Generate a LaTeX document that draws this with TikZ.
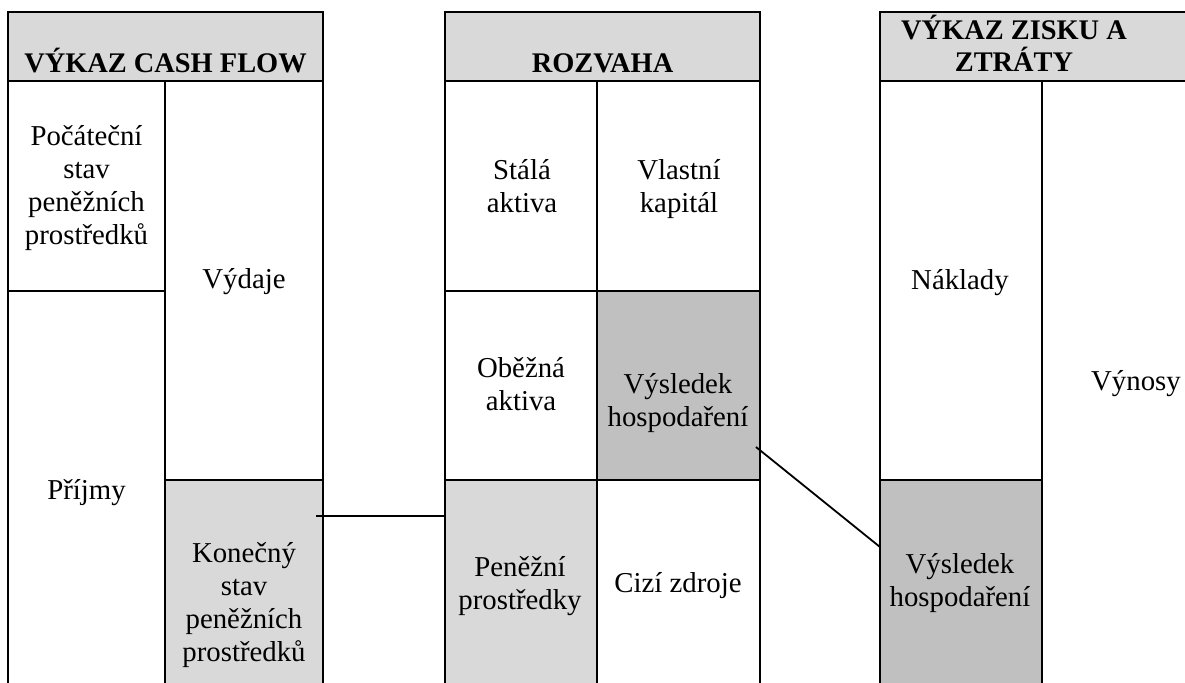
\documentclass[tikz,border=0pt]{standalone}
\usepackage{fontspec}
\setmainfont{Liberation Serif}
\usepackage{tikz}
\definecolor{headGray}{HTML}{D9D9D9}
\definecolor{resGray}{HTML}{C0C0C0}
\tikzset{
cell/.style = {rectangle, draw=black, line width=1.3pt, anchor=north west,
               inner sep=0pt, outer sep=0pt, minimum width=#1},
cell/.default = 80pt % column width
}
\tikzset{
txt/.style = {align=center, inner sep=0pt, font=\fontsize{14.4}{16.5}\selectfont}
}
\tikzset{
head/.style = {align=center, inner sep=0pt, font=\fontsize{14.2}{16}\selectfont\bfseries},
link/.style = {line width=0.9pt}
}

\begin{document}
\begin{tikzpicture}[x=0.5pt, y=-0.5pt]
  \useasboundingbox (0,0) rectangle (1185,682);
  \clip (0,0) rectangle (1185,682);

  % Boxes
    \node[cell=157.5pt, minimum height=34.5pt, fill=headGray] (cashHead) at (8,12) {};
    \node[cell=78.5pt, minimum height=105pt] (cashStart) at (8,81) {};
    \node[cell=78.5pt, minimum height=200pt] (cashIn) at (8,291) {};
    \node[cell=79pt, minimum height=199.5pt] (cashOut) at (165,81) {};
    \node[cell=79pt, minimum height=125pt, fill=headGray] (cashEnd) at (165,480) {};

    \node[cell=157.5pt, minimum height=34.5pt, fill=headGray] (bsHead) at (445,12) {};
    \node[cell=76pt, minimum height=105pt] (bsFixed) at (445,81) {};
    \node[cell=76pt, minimum height=94.5pt] (bsCurrent) at (445,291) {};
    \node[cell=76pt, minimum height=106pt, fill=headGray] (bsCash) at (445,480) {};
    \node[cell=81.5pt, minimum height=105pt] (bsEquity) at (597,81) {};
    \node[cell=81.5pt, minimum height=94.5pt, fill=resGray] (bsResult) at (597,291) {};
    \node[cell=81.5pt, minimum height=106pt] (bsDebt) at (597,480) {};

    \node[cell=175pt, minimum height=34.5pt, fill=headGray] (plHead) at (880,12) {};
    \node[cell=81pt, minimum height=199.5pt] (plCost) at (880,81) {};
    \node[cell=81pt, minimum height=106pt, fill=resGray] (plResult) at (880,480) {};
    \node[cell=94pt, minimum height=305pt] (plRevenue) at (1042,81) {};

  % Texts
    \node[head, anchor=base] (cashTitle) at (165.5,72.7) {VÝKAZ CASH FLOW};
    \node[head, anchor=base] (bsTitle) at (602.5,72.7) {ROZVAHA};
    \node[head] (plTitle) at (1014,43.5) {VÝKAZ ZISKU A\\ZTRÁTY};

    \node[txt] (cashStartText) at (86.5,188) {Počáteční\\stav\\peněžních\\prostředků};
    \node[txt] (cashOutText) at (244,281.5) {Výdaje};
    \node[txt] (cashInText) at (86.5,492.5) {Příjmy};
    \node[txt] (cashEndText) at (244,605) {Konečný\\stav\\peněžních\\prostředků};

    \node[txt] (bsFixedText) at (522,186.3) {Stálá\\aktiva};
    \node[txt] (bsEquityText) at (679,189) {Vlastní\\kapitál};
    \node[txt] (bsCurrentText) at (521,384) {Oběžná\\aktiva};
    \node[txt] (bsResultText) at (678,403) {Výsledek\\hospodaření};
    \node[txt] (bsCashText) at (520,586) {Peněžní\\prostředky};
    \node[txt] (bsDebtText) at (678,585.4) {Cizí zdroje};

    \node[txt] (plCostText) at (960,282.5) {Náklady};
    \node[txt] (plRevenueText) at (1136,383.5) {Výnosy};
    \node[txt] (plResultText) at (960,583) {Výsledek\\hospodaření};

  % Lines
    \coordinate (cashLink) at ([shift={(-3.5pt,-18pt)}]cashEnd.north east);
    \coordinate (resLink) at ([shift={(-2pt,-78pt)}]bsResult.north east);
    \coordinate (plLink) at ([shift={(0pt,-33.5pt)}]plResult.north west);
    \draw[link] (cashLink) -- (cashLink -| bsCash.west);
    \draw[link] (resLink) -- (plLink);
\end{tikzpicture}
\end{document}
